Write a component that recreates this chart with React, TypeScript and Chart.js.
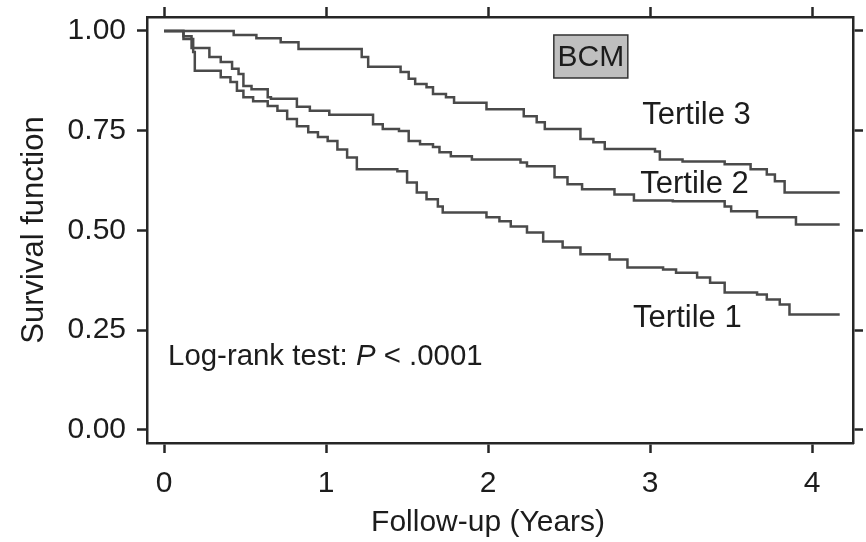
import React, { useEffect, useRef } from "react";
import { Chart, registerables } from "chart.js";

Chart.register(...registerables);

// ---- Data ----
const X_TICKS = [0, 1, 2, 3, 4];
const Y_TICKS = [0, 0.25, 0.5, 0.75, 1.0];
const X_MIN = -0.105;
const X_MAX = 4.252;
const Y_MIN = -0.033;
const Y_MAX = 1.035;

const T3_TIMES = [0, 0.43, 0.57, 0.72, 0.83, 1.22, 1.26, 1.46, 1.51, 1.55, 1.62, 1.66, 1.74, 1.79, 1.99, 2.22, 2.3, 2.35, 2.57, 2.65, 2.72, 3.03, 3.06, 3.2, 3.46, 3.62, 3.72, 3.77, 3.83, 4.17];
const T3_SURV = [1.0, 0.99, 0.982, 0.972, 0.955, 0.935, 0.91, 0.897, 0.88, 0.867, 0.859, 0.842, 0.834, 0.82, 0.804, 0.786, 0.771, 0.754, 0.729, 0.721, 0.704, 0.698, 0.678, 0.673, 0.666, 0.653, 0.64, 0.623, 0.595, 0.595];

const T2_TIMES = [0, 0.12, 0.17, 0.28, 0.35, 0.42, 0.46, 0.49, 0.54, 0.64, 0.66, 0.82, 0.9, 1.02, 1.29, 1.35, 1.45, 1.51, 1.58, 1.66, 1.7, 1.77, 1.9, 2.2, 2.24, 2.41, 2.49, 2.58, 2.78, 2.9, 3.14, 3.46, 3.5, 3.66, 3.9, 4.17];
const T2_SURV = [1.0, 0.987, 0.957, 0.935, 0.922, 0.905, 0.892, 0.862, 0.854, 0.834, 0.83, 0.81, 0.8, 0.79, 0.766, 0.754, 0.749, 0.724, 0.716, 0.709, 0.696, 0.686, 0.678, 0.67, 0.661, 0.633, 0.616, 0.603, 0.59, 0.575, 0.573, 0.56, 0.548, 0.533, 0.515, 0.515];

const T1_TIMES = [0, 0.12, 0.18, 0.19, 0.35, 0.41, 0.45, 0.49, 0.55, 0.64, 0.7, 0.76, 0.82, 0.89, 0.95, 1.01, 1.07, 1.13, 1.19, 1.44, 1.5, 1.56, 1.62, 1.69, 1.72, 1.99, 2.07, 2.14, 2.24, 2.34, 2.46, 2.57, 2.75, 2.86, 3.08, 3.16, 3.29, 3.37, 3.46, 3.66, 3.72, 3.8, 3.86, 4.17];
const T1_SURV = [1.0, 0.98, 0.947, 0.9, 0.884, 0.872, 0.85, 0.834, 0.824, 0.812, 0.8, 0.779, 0.761, 0.746, 0.734, 0.724, 0.703, 0.683, 0.653, 0.648, 0.62, 0.595, 0.578, 0.56, 0.545, 0.533, 0.523, 0.51, 0.495, 0.472, 0.457, 0.44, 0.427, 0.407, 0.402, 0.394, 0.382, 0.369, 0.344, 0.339, 0.327, 0.314, 0.289, 0.289];

const SERIES_NAMES = ["Tertile 1", "Tertile 2", "Tertile 3"];
const LABEL_POS_X = [3.23, 3.274, 3.286];
const LABEL_POS_Y = [0.28, 0.615, 0.788];

const X_TITLE = "Follow-up (Years)";
const Y_TITLE = "Survival function";
const BOX_TEXT = "BCM";
const LOGRANK_PARTS = ["Log-rank test: ", "P", " < .0001"];

const FONT = '"Liberation Sans", Arial, Helvetica, sans-serif';
const FS = 30;
const FS_BIG = 31;
const FS_NOTE = 29.4;
const INK = "#1c1c1c";
const FRAME = "#262626";
const LINE = "#4a4a4a";

export default function App() {
  const ref = useRef<HTMLCanvasElement | null>(null);

  useEffect(() => {
    if (!ref.current) return;
    const pts = (t: number[], s: number[]) => t.map((x, i) => ({ x, y: s[i] }));

    const annot = {
      id: "annot",
      afterDraw(chart: any) {
        const ctx = chart.ctx;
        const xs = chart.scales.x;
        const ys = chart.scales.y;
        ctx.save();
        ctx.fillStyle = INK;
        ctx.textBaseline = "middle";
        ctx.textAlign = "center";
        ctx.font = `${FS_BIG}px ${FONT}`;
        SERIES_NAMES.forEach((n, i) => {
          ctx.fillText(n, xs.getPixelForValue(LABEL_POS_X[i]), ys.getPixelForValue(LABEL_POS_Y[i]));
        });
        // x-axis title, centred under the middle tick
        ctx.font = `${FS}px ${FONT}`;
        ctx.fillText(X_TITLE, xs.getPixelForValue(2), xs.bottom - 19);
        // BCM box
        const bx = xs.getPixelForValue(2.634);
        const by = ys.getPixelForValue(0.936);
        const bw = 74, bh = 43;
        ctx.fillStyle = "#bfbfbf";
        ctx.fillRect(bx - bw / 2, by - bh / 2, bw, bh);
        ctx.strokeStyle = "#333";
        ctx.lineWidth = 1.5;
        ctx.strokeRect(bx - bw / 2, by - bh / 2, bw, bh);
        ctx.fillStyle = INK;
        ctx.font = `${FS}px ${FONT}`;
        ctx.fillText(BOX_TEXT, bx, by + 1);
        // log-rank
        let lx = xs.getPixelForValue(0.025);
        const ly = ys.getPixelForValue(0.184);
        ctx.textAlign = "left";
        LOGRANK_PARTS.forEach((p, i) => {
          ctx.font = (i === 1 ? "italic " : "") + `${FS_NOTE}px ${FONT}`;
          ctx.fillText(p, lx, ly);
          lx += ctx.measureText(p).width;
        });
        ctx.restore();
      },
    };

    const ds = (t: number[], s: number[]) => ({
      data: pts(t, s),
      borderColor: LINE,
      borderWidth: 2.5,
      stepped: "before" as const,
      pointRadius: 0,
      fill: false,
      tension: 0,
    });

    const axisCommon = {
      type: "linear" as const,
      border: { display: true, color: FRAME, width: 2.5 },
      grid: {
        display: true,
        drawOnChartArea: false,
        drawTicks: true,
        tickLength: 10,
        tickWidth: 2.5,
        tickColor: FRAME,
      },
    };
    const noPad = (s: any) => {
      s.paddingTop = 0;
      s.paddingBottom = 0;
      s.paddingLeft = 0;
      s.paddingRight = 0;
    };

    const chart = new Chart(ref.current, {
      type: "line",
      data: {
        datasets: [ds(T1_TIMES, T1_SURV), ds(T2_TIMES, T2_SURV), ds(T3_TIMES, T3_SURV)],
      },
      options: {
        responsive: false,
        animation: false,
        layout: { padding: 0 },
        plugins: { legend: { display: false }, tooltip: { enabled: false } },
        scales: {
          x: {
            ...axisCommon,
            position: "bottom",
            min: X_MIN,
            max: X_MAX,
            afterBuildTicks: (s: any) => { s.ticks = X_TICKS.map((v) => ({ value: v })); },
            afterFit: (s: any) => { s.height = 99; noPad(s); },
            ticks: { color: INK, font: { family: FONT, size: FS }, padding: 13, maxRotation: 0, callback: (v: any) => String(v) },
          },
          x2: {
            ...axisCommon,
            position: "top",
            min: X_MIN,
            max: X_MAX,
            afterBuildTicks: (s: any) => { s.ticks = X_TICKS.map((v) => ({ value: v })); },
            afterFit: (s: any) => { s.height = 17; noPad(s); },
            ticks: { display: false },
          },
          y: {
            ...axisCommon,
            position: "left",
            min: Y_MIN,
            max: Y_MAX,
            afterBuildTicks: (s: any) => { s.ticks = Y_TICKS.map((v) => ({ value: v })); },
            afterFit: (s: any) => { s.width = 147; noPad(s); },
            ticks: { color: INK, font: { family: FONT, size: FS }, padding: 11, callback: (v: any) => Number(v).toFixed(2) },
            title: { display: true, text: Y_TITLE, color: INK, font: { family: FONT, size: FS_BIG }, padding: { top: 16, bottom: 0 } },
          },
          y2: {
            ...axisCommon,
            position: "right",
            min: Y_MIN,
            max: Y_MAX,
            afterBuildTicks: (s: any) => { s.ticks = Y_TICKS.map((v) => ({ value: v })); },
            afterFit: (s: any) => { s.width = 13; noPad(s); },
            ticks: { display: false },
          },
        },
      } as any,
      plugins: [annot],
    });
    return () => chart.destroy();
  }, []);

  return (
    <div style={{ position: "absolute", left: 0, top: 0, width: 866, height: 542, background: "#fff" }}>
      <canvas ref={ref} width={866} height={542} style={{ width: 866, height: 542, display: "block" }} />
    </div>
  );
}
